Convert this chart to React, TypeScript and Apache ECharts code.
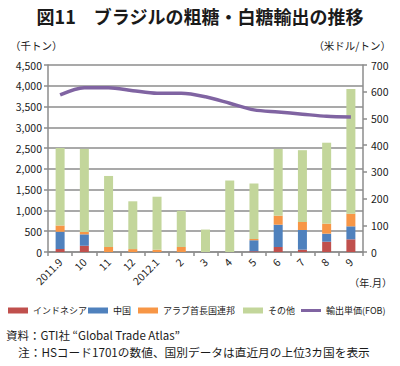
import React, { useEffect, useRef } from "react";
import * as echarts from "echarts";

const categories = ["2011.9", "10", "11", "12", "2012.1", "2", "3", "4", "5", "6", "7", "8", "9"];
const indonesia = [70, 150, 0, 0, 0, 0, 0, 0, 20, 120, 56, 248, 305];
const china = [420, 275, 0, 0, 0, 0, 0, 0, 260, 537, 473, 193, 313];
const uae = [145, 56, 120, 70, 55, 120, 0, 0, 30, 217, 193, 241, 304];
const other = [1865, 2000, 1710, 1150, 1275, 870, 540, 1720, 1340, 1606, 1728, 1948, 2998];
const price = [588, 615, 615, 604, 594, 594, 581, 557, 532, 524, 516, 508, 505];

const seriesNames = ["インドネシア", "中国", "アラブ首長国連邦", "その他", "輸出単価(FOB)"];
const FONT = "'Noto Sans CJK JP', 'Noto Sans', sans-serif";

export default function App() {
  const ref = useRef<HTMLDivElement>(null);
  useEffect(() => {
    document.body.style.margin = "0";
    const chart = echarts.init(ref.current!, null, { renderer: "svg" });
    const barBase = { type: "bar", stack: "total", barWidth: 9, yAxisIndex: 0 };
    const legendLefts = [8, 88, 138, 243, 301];
    chart.setOption({
      animation: false,
      textStyle: { fontFamily: FONT },
      title: {
        text: "図11　ブラジルの粗糖・白糖輸出の推移",
        left: "center",
        top: 2,
        textStyle: { fontFamily: FONT, fontSize: 18, fontWeight: "bold", color: "#1a1a1a" },
      },
      grid: { left: 48, right: 37, top: 65, bottom: 114 },
      legend: seriesNames.map((n, i) => ({
        left: legendLefts[i],
        top: 306,
        itemWidth: 20,
        itemHeight: i === 4 ? 3 : 6,
        itemGap: 0,
        padding: 0,
        textStyle: { fontFamily: FONT, fontSize: 9, color: "#1a1a1a" },
        data: [{ name: n, icon: "rect" }],
      })),
      xAxis: {
        type: "category",
        data: categories,
        axisLine: { lineStyle: { color: "#8c8c8c", width: 1.5 } },
        axisTick: { show: true, length: 4, lineStyle: { color: "#8c8c8c", width: 1.5 } },
        axisLabel: { rotate: 45, fontSize: 10.5, color: "#1a1a1a", margin: 8, interval: 0 },
      },
      yAxis: [
        {
          type: "value",
          min: 0,
          max: 4500,
          interval: 500,
          name: "（千トン）",
          nameLocation: "end",
          nameGap: 14,
          nameTextStyle: { fontFamily: FONT, fontSize: 10.5, color: "#1a1a1a", align: "left", padding: [0, 0, 0, -38] },
          axisLine: { show: true, lineStyle: { color: "#8c8c8c", width: 1.5 } },
          axisTick: { show: true, length: 4, lineStyle: { color: "#8c8c8c", width: 1.5 } },
          splitLine: { lineStyle: { color: "#8c8c8c", width: 1.5 } },
          axisLabel: {
            fontSize: 10.5,
            color: "#1a1a1a",
            margin: 6,
            formatter: (v: number) => v.toLocaleString("en-US"),
          },
        },
        {
          type: "value",
          min: 0,
          max: 700,
          interval: 100,
          name: "（米ドル/トン）",
          nameLocation: "end",
          nameGap: 14,
          nameTextStyle: { fontFamily: FONT, fontSize: 10.5, color: "#1a1a1a", align: "right", padding: [0, -28, 0, 0] },
          axisLine: { show: true, lineStyle: { color: "#8c8c8c", width: 1.5 } },
          axisTick: { show: true, length: 4, lineStyle: { color: "#8c8c8c", width: 1.5 } },
          splitLine: { show: false },
          axisLabel: { fontSize: 10.5, color: "#1a1a1a", margin: 8 },
        },
      ],
      series: [
        { ...barBase, name: seriesNames[0], data: indonesia, itemStyle: { color: "#c0504d" } },
        { ...barBase, name: seriesNames[1], data: china, itemStyle: { color: "#4f81bd" } },
        { ...barBase, name: seriesNames[2], data: uae, itemStyle: { color: "#f79646" } },
        { ...barBase, name: seriesNames[3], data: other, itemStyle: { color: "#c3d69b" } },
        {
          type: "line",
          name: seriesNames[4],
          yAxisIndex: 1,
          data: price,
          smooth: 0.3,
          symbol: "none",
          lineStyle: { color: "#8064a2", width: 3.5 },
          itemStyle: { color: "#8064a2" },
        },
      ],
      graphic: [
        {
          type: "text",
          right: 8,
          top: 277,
          style: { text: "（年.月）", font: `10px ${FONT}`, fill: "#1a1a1a" },
        },
        {
          type: "text",
          left: 6,
          top: 329,
          style: { text: "資料：GTI社 “Global Trade Atlas”", font: `11.5px ${FONT}`, fill: "#1a1a1a" },
        },
        {
          type: "text",
          left: 18,
          top: 346,
          style: { text: "注：HSコード1701の数値、国別データは直近月の上位3カ国を表示", font: `11.7px ${FONT}`, fill: "#1a1a1a" },
        },
      ],
    });
    return () => chart.dispose();
  }, []);
  return <div ref={ref} style={{ width: 400, height: 366 }} />;
}
